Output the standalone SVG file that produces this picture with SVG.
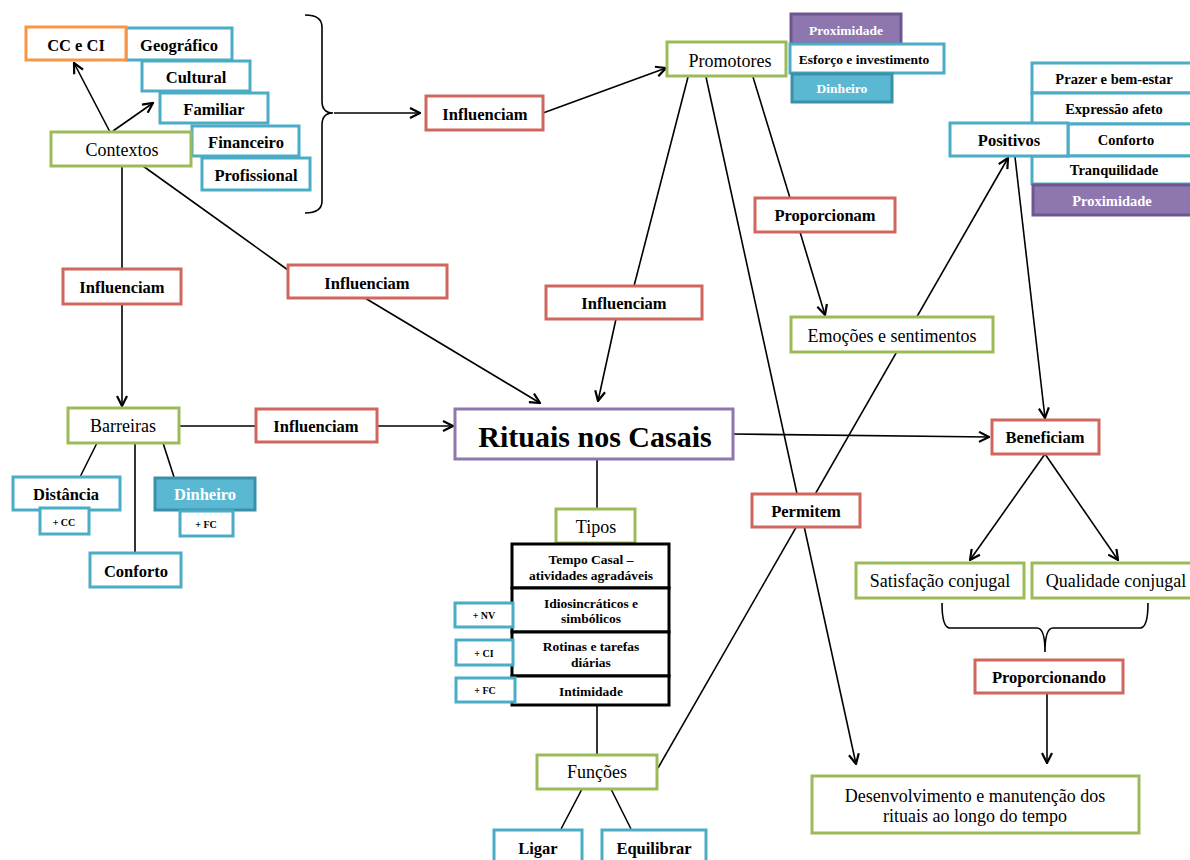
<svg xmlns="http://www.w3.org/2000/svg" width="1190" height="860" viewBox="0 0 1190 860">
<defs>
<marker id="ah" viewBox="0 0 12 12" refX="11" refY="6" markerWidth="12" markerHeight="12" markerUnits="userSpaceOnUse" orient="auto">
<path d="M1,1 L11,6 L1,11" fill="none" stroke="#000" stroke-width="2.2" stroke-linejoin="miter"/>
</marker>
</defs>
<style>
.g{fill:#fff;stroke:#9bbb59;stroke-width:3}
.r{fill:#fff;stroke:#d0675f;stroke-width:3}
.b{fill:#fff;stroke:#4bacc6;stroke-width:3}
.o{fill:#fff;stroke:#f79646;stroke-width:3}
.p{fill:#fff;stroke:#8e76ae;stroke-width:3}
.pf{fill:#8e76ae;stroke:#6e5690;stroke-width:3}
.bf{fill:#5bb8d2;stroke:#3b90a8;stroke-width:3}
.k{fill:#fff;stroke:#000;stroke-width:3}
text{font-family:"Liberation Serif","Times New Roman",serif;text-anchor:middle;dominant-baseline:central;fill:#000}
.n{font-size:18px}
.bd{font-weight:bold;font-size:16.5px}
.sm{font-weight:bold;font-size:13.5px}
.rt{font-weight:bold;font-size:14.5px}
.xs{font-weight:bold;font-size:10px}
.w{fill:#fff}
.ln{stroke:#000;stroke-width:1.6;fill:none}
.ar{stroke:#000;stroke-width:1.6;fill:none;marker-end:url(#ah)}
</style>
<g id="connectors">
<line class="ar" x1="110" y1="132" x2="74" y2="63"/>
<line class="ar" x1="113" y1="131" x2="153" y2="103"/>
<line class="ln" x1="122" y1="166" x2="122" y2="269"/>
<line class="ar" x1="122" y1="304" x2="122" y2="406"/>
<line class="ln" x1="143" y1="166" x2="288" y2="270"/>
<line class="ar" x1="365" y1="298" x2="540" y2="403"/>
<path class="ln" d="M305,15 Q322,15 322,27 L322,101 Q322,113 333,113 Q322,113 322,125 L322,201 Q322,213 305,213"/>
<line class="ar" x1="334" y1="113" x2="420" y2="113"/>
<line class="ar" x1="543" y1="113" x2="666" y2="68"/>
<line class="ln" x1="688" y1="77" x2="634" y2="286"/>
<line class="ar" x1="616" y1="319" x2="598" y2="401"/>
<line class="ar" x1="706" y1="77" x2="856" y2="764"/>
<line class="ln" x1="753" y1="77" x2="790" y2="198"/>
<line class="ar" x1="800" y1="232" x2="825" y2="315"/>
<line class="ar" x1="658" y1="768" x2="1008" y2="158"/>
<line class="ar" x1="1015" y1="157" x2="1045" y2="418"/>
<line class="ar" x1="733" y1="434" x2="989" y2="437"/>
<line class="ln" x1="179" y1="426" x2="256" y2="426"/>
<line class="ar" x1="377" y1="426" x2="453" y2="426"/>
<line class="ln" x1="97" y1="443" x2="80" y2="477"/>
<line class="ln" x1="135" y1="443" x2="135" y2="553"/>
<line class="ln" x1="163" y1="443" x2="174" y2="477"/>
<line class="ln" x1="597" y1="459" x2="597" y2="509"/>
<line class="ln" x1="597" y1="705" x2="597" y2="755"/>
<line class="ln" x1="582" y1="789" x2="561" y2="829"/>
<line class="ln" x1="611" y1="789" x2="631" y2="829"/>
<line class="ar" x1="1045" y1="454" x2="970" y2="560"/>
<line class="ar" x1="1045" y1="454" x2="1118" y2="560"/>
<path class="ln" d="M942,603 Q942,628 950,628 L1037,628 Q1045,628 1045,652 Q1045,628 1053,628 L1140,628 Q1148,628 1148,603"/>
<line class="ar" x1="1047" y1="693" x2="1047" y2="763"/>
</g>
<g id="geografico"><rect class="b" x="126" y="28" width="106" height="32"/><text class="bd" x="179" y="45">Geográfico</text></g>
<g id="cc-ci"><rect class="o" x="26" y="27" width="100" height="33"/><text class="bd" x="76" y="45">CC e CI</text></g>
<g id="cultural"><rect class="b" x="142" y="61" width="108" height="30"/><text class="bd" x="196" y="77">Cultural</text></g>
<g id="familiar"><rect class="b" x="160" y="93" width="108" height="30"/><text class="bd" x="214" y="109">Familiar</text></g>
<g id="financeiro"><rect class="b" x="192" y="126" width="107" height="30"/><text class="bd" x="246" y="142">Financeiro</text></g>
<g id="profissional"><rect class="b" x="202" y="158" width="108" height="32"/><text class="bd" x="256" y="175">Profissional</text></g>
<g id="contextos"><rect class="g" x="51" y="132" width="140" height="34"/><text class="n" x="122" y="150">Contextos</text></g>
<g id="influenciam-top"><rect class="r" x="426" y="96" width="117" height="34"/><text class="bd" x="485" y="114">Influenciam</text></g>
<g id="promotores"><rect class="g" x="667" y="42" width="119" height="34"/><text class="n" x="730" y="61">Promotores</text></g>
<g id="proximidade-top"><rect class="pf" x="791" y="14" width="110" height="30"/><text class="sm w" x="846" y="30">Proximidade</text></g>
<g id="esforco"><rect class="b" x="790" y="44" width="154" height="29"/><text class="sm" x="864" y="59">Esforço e investimento</text></g>
<g id="dinheiro-top"><rect class="bf" x="792" y="74" width="100" height="28"/><text class="sm w" x="842" y="88">Dinheiro</text></g>
<g id="prazer"><rect class="b" x="1032" y="63" width="162" height="30"/><text class="rt" x="1114" y="79">Prazer e bem-estar</text></g>
<g id="expressao"><rect class="b" x="1032" y="93" width="162" height="31"/><text class="rt" x="1114" y="109">Expressão afeto</text></g>
<g id="conforto-pos"><rect class="b" x="1068" y="124" width="126" height="32"/><text class="rt" x="1126" y="140">Conforto</text></g>
<g id="tranquilidade"><rect class="b" x="1032" y="156" width="162" height="28"/><text class="rt" x="1114" y="170">Tranquilidade</text></g>
<g id="proximidade-right"><rect class="pf" x="1033" y="185" width="161" height="30"/><text class="rt w" x="1112" y="201">Proximidade</text></g>
<g id="positivos"><rect class="b" x="950" y="123" width="118" height="33"/><text class="bd" x="1009" y="140">Positivos</text></g>
<g id="proporcionam"><rect class="r" x="755" y="198" width="140" height="34"/><text class="bd" x="825" y="215">Proporcionam</text></g>
<g id="emocoes"><rect class="g" x="791" y="317" width="202" height="35"/><text class="n" x="892" y="336">Emoções e sentimentos</text></g>
<g id="influenciam-left"><rect class="r" x="63" y="269" width="118" height="35"/><text class="bd" x="122" y="287">Influenciam</text></g>
<g id="influenciam-mid"><rect class="r" x="288" y="265" width="159" height="33"/><text class="bd" x="367" y="283">Influenciam</text></g>
<g id="influenciam-center"><rect class="r" x="546" y="286" width="156" height="33"/><text class="bd" x="624" y="303">Influenciam</text></g>
<g id="barreiras"><rect class="g" x="68" y="408" width="111" height="35"/><text class="n" x="123" y="426">Barreiras</text></g>
<g id="influenciam-barreiras"><rect class="r" x="256" y="409" width="121" height="33"/><text class="bd" x="316" y="426">Influenciam</text></g>
<g id="rituais"><rect class="p" x="455" y="409" width="278" height="50"/><text x="595" y="436" style="font-weight:bold;font-size:30px">Rituais nos Casais</text></g>
<g id="beneficiam"><rect class="r" x="992" y="420" width="107" height="34"/><text class="bd" x="1045" y="437">Beneficiam</text></g>
<g id="distancia"><rect class="b" x="13" y="477" width="107" height="33"/><text class="bd" x="66" y="494">Distância</text></g>
<g id="cc-small"><rect class="b" x="40" y="508" width="49" height="26"/><text class="xs" x="64" y="522">+ CC</text></g>
<g id="dinheiro-barreiras"><rect class="bf" x="155" y="478" width="100" height="32"/><text class="bd w" x="205" y="494">Dinheiro</text></g>
<g id="fc-small"><rect class="b" x="180" y="511" width="53" height="25"/><text class="xs" x="206" y="524">+ FC</text></g>
<g id="conforto"><rect class="b" x="90" y="553" width="91" height="34"/><text class="bd" x="136" y="571">Conforto</text></g>
<g id="permitem"><rect class="r" x="752" y="494" width="108" height="33"/><text class="bd" x="806" y="511">Permitem</text></g>
<g id="tipos"><rect class="g" x="556" y="509" width="79" height="34"/><text class="n" x="596" y="527">Tipos</text></g>
<g id="tempo-casal"><rect class="k" x="512" y="544" width="157" height="44"/><text class="sm" x="591" y="559">Tempo Casal –</text><text class="sm" x="591" y="575">atividades agradáveis</text></g>
<g id="idiosincraticos"><rect class="k" x="512" y="588" width="157" height="44"/><text class="sm" x="591" y="603">Idiosincráticos e</text><text class="sm" x="591" y="618">simbólicos</text></g>
<g id="rotinas"><rect class="k" x="512" y="632" width="157" height="44"/><text class="sm" x="591" y="646">Rotinas e tarefas</text><text class="sm" x="591" y="662">diárias</text></g>
<g id="intimidade"><rect class="k" x="512" y="676" width="157" height="29"/><text class="sm" x="591" y="691">Intimidade</text></g>
<g id="nv"><rect class="b" x="455" y="603" width="58" height="24"/><text class="xs" x="484" y="615">+ NV</text></g>
<g id="ci"><rect class="b" x="456" y="640" width="57" height="25"/><text class="xs" x="484" y="653">+ CI</text></g>
<g id="fc-tipos"><rect class="b" x="456" y="678" width="59" height="24"/><text class="xs" x="485" y="690">+ FC</text></g>
<g id="funcoes"><rect class="g" x="537" y="755" width="120" height="34"/><text class="n" x="597" y="772">Funções</text></g>
<g id="ligar"><rect class="b" x="494" y="830" width="88" height="36"/><text class="bd" x="538" y="848">Ligar</text></g>
<g id="equilibrar"><rect class="b" x="602" y="830" width="104" height="36"/><text class="bd" x="654" y="848">Equilibrar</text></g>
<g id="satisfacao"><rect class="g" x="856" y="563" width="168" height="35"/><text class="n" x="940" y="581">Satisfação conjugal</text></g>
<g id="qualidade"><rect class="g" x="1032" y="563" width="162" height="35"/><text class="n" x="1116" y="581">Qualidade conjugal</text></g>
<g id="proporcionando"><rect class="r" x="975" y="660" width="148" height="33"/><text class="bd" x="1049" y="677">Proporcionando</text></g>
<g id="desenvolvimento"><rect class="g" x="812" y="776" width="327" height="57"/><text class="n" x="975" y="796">Desenvolvimento e manutenção dos</text><text class="n" x="975" y="816">rituais ao longo do tempo</text></g>
</svg>
